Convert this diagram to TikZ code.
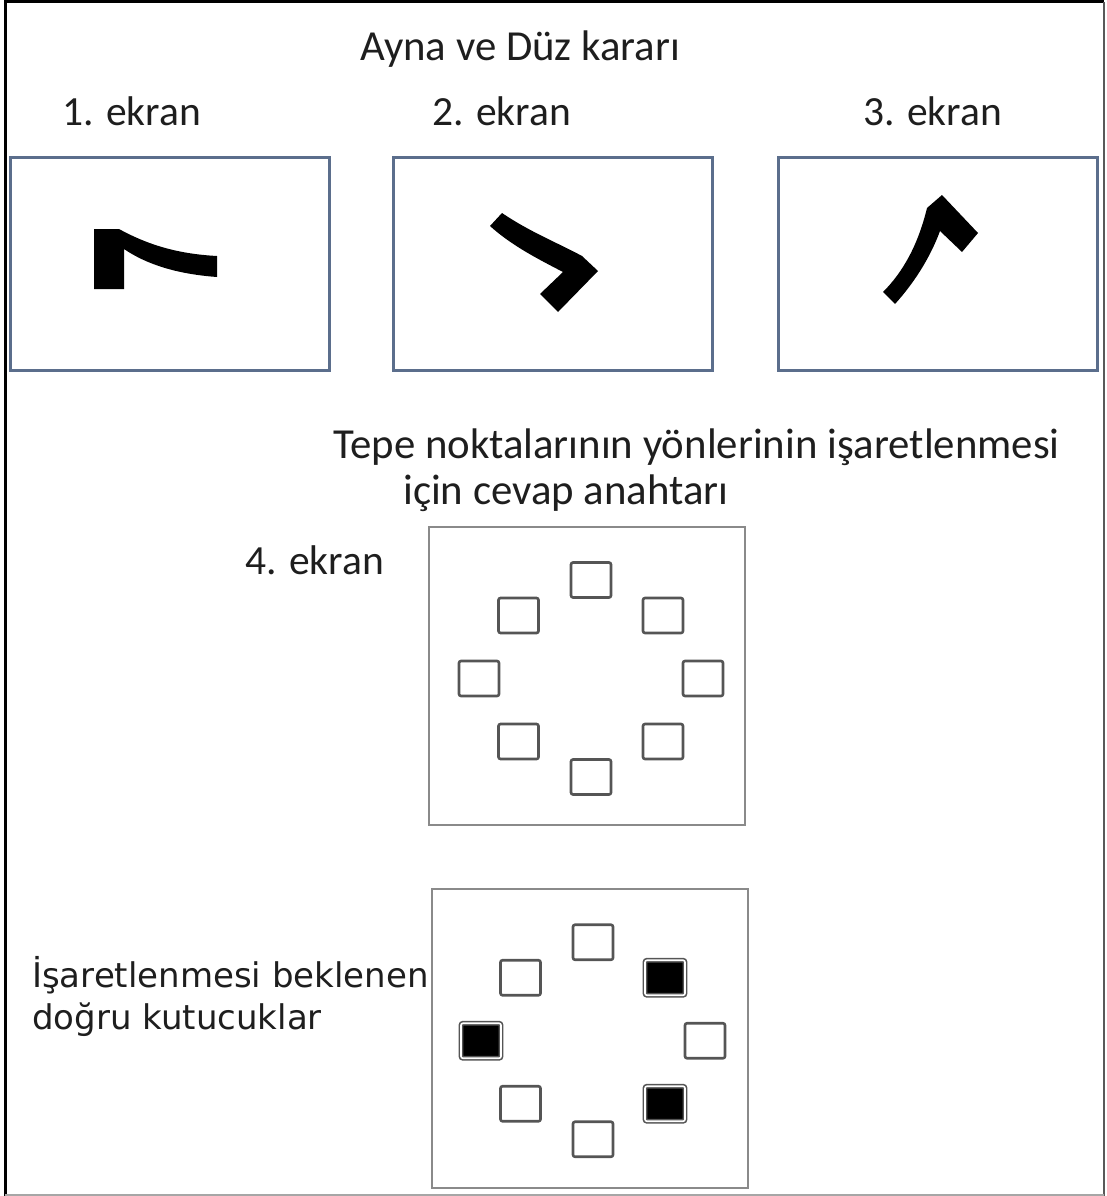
\documentclass[tikz,border=0pt]{standalone}
\usepackage{fontspec}
\setmainfont{Carlito}
\newfontfamily\notefont{DejaVu Sans}
\usetikzlibrary{positioning}
\definecolor{scrframe}{HTML}{5B6E8C}
\definecolor{keyframe}{HTML}{8A8A8A}
\definecolor{cellframe}{HTML}{555555}
\definecolor{ink}{HTML}{1E1E1E}

\begin{document}
\begin{tikzpicture}[x=1pt,y=-1pt,
  lbl/.style={font=\fontsize{41.5}{48}\selectfont,text=ink,inner sep=0pt,anchor=base west},
  head/.style={lbl,font=\fontsize{42.8}{48}\selectfont},
  note/.style={font=\notefont\fontsize{34}{42}\selectfont,text=ink,inner sep=0pt,
               align=left,anchor=base west},
  scr/.style={draw=scrframe,line width=3pt,minimum width=319pt,minimum height=213pt,
              inner sep=0pt},
  key/.style={draw=keyframe,line width=1.8pt,minimum width=316pt,minimum height=298pt,
              inner sep=0pt},
  cell/.style={draw=cellframe,line width=2.6pt,rounded corners=2pt,fill=white,
               minimum width=40pt,minimum height=35pt,inner sep=0pt},
  hit/.style={cell,fill=black,double=white,double distance=1.6pt,line width=1.6pt}
]
\useasboundingbox (0,0) rectangle (1106,1196);

% outer frame
\draw[black,line width=3pt] (5,1196) -- (5,2) -- (1104,2);
\draw[black!65,line width=2pt] (1104,2) -- (1104,1196);
\draw[black!35,line width=2pt] (5,1195) -- (1104,1195);

% screens 1-3
\node[head] (title) at (360,61) {Ayna ve Düz kararı};
\node[lbl] (t1) at (62,125) {1. ekran};
\node[lbl] (t2) at (432,125) {2. ekran};
\node[lbl] (t3) at (863,125) {3. ekran};

\node[scr] (s1) at (170,263.5) {};
\node[scr] (s2) at (553,263.5) {};
\node[scr] (s3) at (937.5,263.5) {};

\fill (94,229) -- (119,229) .. controls (150,246) and (180,254) .. (217,256)
  -- (217,277) .. controls (176,274) and (146,264) .. (124,249)
  -- (124,289) -- (94,289) -- cycle;
\fill (502,213) .. controls (530,232) and (558,243) .. (582,256)
  -- (598,271) -- (558,312) -- (540,294) -- (563,272)
  .. controls (540,260) and (512,246) .. (490,226) -- cycle;
\fill (883,292) .. controls (903,272) and (918,245) .. (927,208)
  -- (942,195) -- (978,233) -- (962,252) -- (940,231)
  .. controls (930,258) and (914,283) .. (895,304) -- cycle;

% answer key
\node[head] (q1) at (333,458) {Tepe noktalarının yönlerinin işaretlenmesi};
\node[head] (q2) at (403,504) {için cevap anahtarı};
\node[lbl] (t4) at (245,574) {4. ekran};

\node[key] (k4) at (587,676) {};
\node[key,minimum height=299pt] (k5) at (590,1038.5) {};
\coordinate (c4) at (591,678.5);
\coordinate (c5) at (593,1040.75);

\foreach \nm/\dx/\dy in {n/0/-98.5,ne/72/-63,e/112/0,se/72/63,
                         s/0/98.5,sw/-72.5/63,w/-112/0,nw/-72.5/-63}{
  \node[cell] (k4-\nm) at ([shift={(\dx,\dy)}]c4) {};
}
\foreach \nm/\dx/\dy/\st in {n/0/-98.5/cell,ne/72/-63/hit,e/112/0/cell,se/72/63/hit,
                             s/0/98.5/cell,sw/-72.5/63/cell,w/-112/0/hit,nw/-72.5/-63/cell}{
  \node[\st] (k5-\nm) at ([shift={(\dx,\dy)}]c5) {};
}

\node[note] (n5) at (32,1029) {İşaretlenmesi beklenen\\doğru kutucuklar};
\end{tikzpicture}
\end{document}
